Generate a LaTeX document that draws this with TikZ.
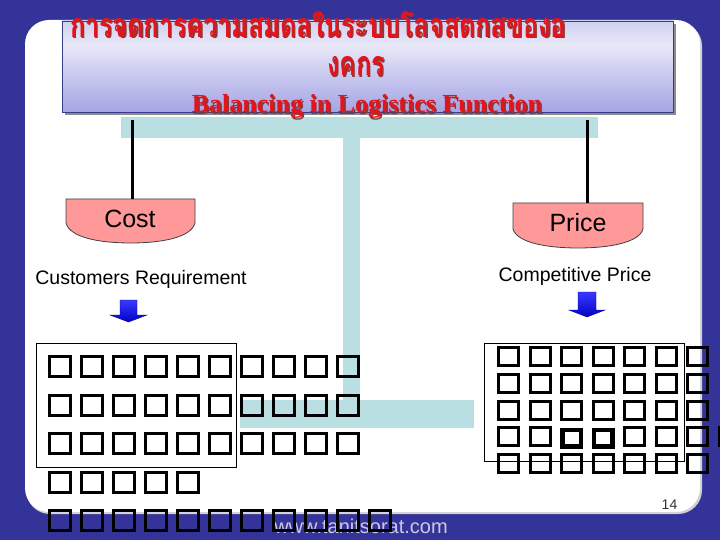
\documentclass[tikz,border=0pt]{standalone}
\usepackage{fontspec}
\usepackage{graphicx}
\newfontfamily\arialf{Liberation Sans}
\newfontfamily\timesf{Liberation Serif}
\newfontfamily\thaifont[Script=Thai]{Loma}
\definecolor{bgblue}{HTML}{333399}
\definecolor{beamc}{HTML}{B9DFE3}
\definecolor{pinkc}{HTML}{FF9999}
\definecolor{titlered}{HTML}{E4141C}
\definecolor{shadowc}{HTML}{8A3A3A}
\definecolor{bordc}{HTML}{3A3A8C}
\definecolor{arrtop}{HTML}{3A3AFF}
\definecolor{arrbot}{HTML}{0000C8}
\definecolor{tb}{HTML}{A4A4E4}
\definecolor{tm}{HTML}{E8E8F8}
\definecolor{tt}{HTML}{D0D0F2}
\pgfdeclareverticalshading{titleshade}{100bp}{color(0bp)=(tb); color(25bp)=(tb); color(62bp)=(tm); color(75bp)=(tt); color(100bp)=(tt)}
% missing-glyph boxes as printed
\newcommand\tfa{{\setlength\fboxrule{3pt}\setlength\fboxsep{0pt}\fbox{\rule{0pt}{17pt}\rule{18pt}{0pt}}}\kern8pt}
\newcommand\tfb{{\setlength\fboxrule{3pt}\setlength\fboxsep{0pt}\fbox{\rule{0pt}{15pt}\rule{17pt}{0pt}}}\kern8.5pt}
\newcommand\tfc{{\setlength\fboxrule{4.5pt}\setlength\fboxsep{0pt}\fbox{\rule{0pt}{12pt}\rule{14pt}{0pt}}}\kern8.5pt}
\newcommand\tfaf{\tfa\tfa\tfa\tfa\tfa}
\newcommand\tfbf{\tfb\tfb\tfb\tfb\tfb}
\newcommand\thaione{\resizebox{496pt}{\height}{\thaifont\bfseries\fontsize{34}{34}\selectfont การจดการความสมดลในระบบโลจสตกสของอ}}
\newcommand\thaitwo{\resizebox{58pt}{\height}{\thaifont\bfseries\fontsize{34}{34}\selectfont งคกร}}
\newcommand\baltext{\timesf\bfseries\fontsize{26}{26}\selectfont Balancing in Logistics Function}
\begin{document}
\begin{tikzpicture}[x=1pt,y=-1pt,
  ttl/.style={text=titlered, inner sep=0pt, anchor=base},
  ttls/.style={text=shadowc, inner sep=0pt, anchor=base},
  lbl/.style={inner sep=0pt, anchor=base},
  pan/.style={fill=pinkc, draw=black!75, line width=0.8pt},
  hang/.style={line width=3pt, draw=black},
  tofurow/.style={anchor=north west, inner sep=0pt},
  framebox/.style={draw=black, line width=0.8pt},
  barrow/.style={top color=arrtop, bottom color=arrbot, draw=arrbot!70!black, line width=0.4pt}
]
\useasboundingbox (0,0) rectangle (720,540);
\clip (0,0) rectangle (720,540);
\fill[bgblue] (0,0) rectangle (720,540);
% white panel
\fill[black!18, rounded corners=24pt] (26,22) rectangle (702,514);
\fill[white, rounded corners=24pt] (25,20) rectangle (700,512);
% balance structure
\fill[beamc] (121,117) rectangle (598,138);
\fill[beamc] (343,138) rectangle (360,428);
\fill[beamc] (240,400) rectangle (474,428);
% title box
\fill[black!45] (65,24) rectangle (676,115);
\shade[shading=titleshade] (62,21) rectangle (673,112);
\draw[bordc, line width=0.8pt] (62,21) rectangle (673,112);
\node[ttls] (th1s) at (319.5,39) {\thaione};
\node[ttl] (th1) at (318,37.5) {\thaione};
\node[ttls] (th2s) at (357.5,77.5) {\thaitwo};
\node[ttl] (th2) at (356,76) {\thaitwo};
\node[ttls] (bals) at (368.5,114.5) {\baltext};
\node[ttl] (bal) at (367,113) {\baltext};
% pans
\path[pan] (66,199) -- (195,199) -- (195,223) .. controls (191,238) and (160,243) .. (130.5,243) .. controls (101,243) and (70,238) .. (66,223) -- cycle;
\path[pan] (513,203) -- (643,203) -- (643,229) .. controls (639,243) and (608,248) .. (578,248) .. controls (548,248) and (517,243) .. (513,229) -- cycle;
\node[lbl, font=\arialf\fontsize{25}{25}\selectfont] (cost) at (130,227) {Cost};
\node[lbl, font=\arialf\fontsize{25}{25}\selectfont] (price) at (578,231) {Price};
\coordinate (hl) at (132,120);
\coordinate (costtop) at (132,199);
\coordinate (hr) at (587,120);
\coordinate (pricetop) at (587,203);
\draw[hang] (hl) -- (costtop);
\draw[hang] (hr) -- (pricetop);
% labels
\node[lbl, font=\arialf\fontsize{19.5}{19.5}\selectfont] (creq) at (141,284) {Customers Requirement};
\node[lbl, font=\arialf\fontsize{19.5}{19.5}\selectfont] (cprice) at (575,281) {Competitive Price};
% block arrows
\path[barrow] (120,300) -- (137,300) -- (137,315) -- (147,315) -- (128.5,322) -- (110,315) -- (120,315) -- cycle;
\path[barrow] (578,292) -- (596,292) -- (596,310) -- (605,310) -- (587,317) -- (569,310) -- (578,310) -- cycle;
% footer
\node[lbl, font=\arialf\fontsize{20}{20}\selectfont, text=black!12!bgblue!25!white] (web) at (361,533) {www.tanitsorat.com};
\node[lbl, font=\arialf\fontsize{14}{14}\selectfont, text=black!80] (pnum) at (669.5,509) {14};
% text frames
\draw[framebox] (36.7,343) rectangle (236.7,467);
\draw[framebox] (484,343) rectangle (684,461);
% left block
\node[tofurow] (l1) at (48,355) {\tfaf\tfaf};
\node[tofurow] (l2) at (48,393.5) {\tfaf\tfaf};
\node[tofurow] (l3) at (48,432) {\tfaf\tfaf};
\node[tofurow] (l4) at (48,470.5) {\tfaf};
\node[tofurow] (l5) at (48,509) {\tfaf\tfaf\tfa};
% right block
\node[tofurow] (r1) at (497,346) {\tfbf\tfb\tfb};
\node[tofurow] (r2) at (497,372.7) {\tfbf\tfb\tfb};
\node[tofurow] (r3) at (497,399.4) {\tfbf\tfb\tfb};
\node[tofurow] (r4) at (497,426.1) {\tfb\tfb\tfc\tfc\tfb\tfb\tfb\tfb};
\node[tofurow] (r5) at (497,452.8) {\tfbf\tfb\tfb};
\end{tikzpicture}
\end{document}
